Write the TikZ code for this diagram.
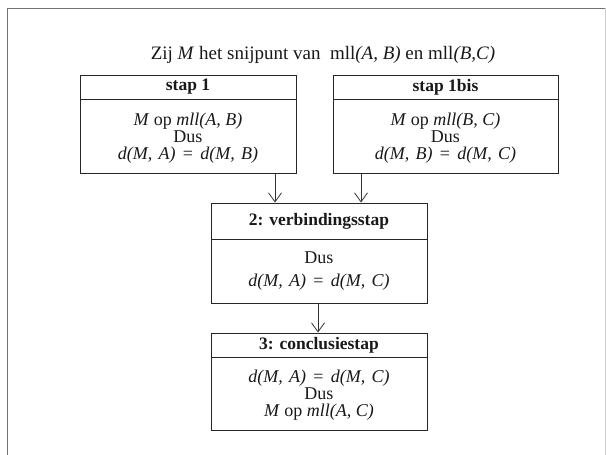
\documentclass[tikz,border=0pt]{standalone}
\usepackage{fontspec}
\setmainfont{Liberation Serif}
\usetikzlibrary{arrows.meta}
\newcommand{\eqline}[3]{\textit{#1(M,\hspace{.35em}#2)}\hspace{.4em}=\hspace{.4em}\textit{#1(M,\hspace{.35em}#3)}}
\begin{document}
\begin{tikzpicture}[x=1pt,y=-1pt,
  boxframe/.style={draw=black!85, line width=1pt, inner sep=0pt},
  sepline/.style={draw=black!85, line width=0.9pt},
  headtxt/.style={font=\fontsize{17.5}{17}\selectfont\bfseries, inner sep=0pt, text=black!90},
  bodytxt/.style={font=\fontsize{18}{17}\selectfont, align=center, inner sep=0pt, text=black!90},
  titletxt/.style={font=\fontsize{19}{19}\selectfont, inner sep=0pt, text=black!90},
  arr/.style={draw=black!80, line width=0.8pt, -{Straight Barb[length=9pt,width=13pt]}},
  frameline/.style={draw=black!55, line width=1pt}]
\useasboundingbox (0,0) rectangle (606,455);
\fill[white] (0,0) rectangle (606,455);
\draw[frameline] (7,455) -- (7,8) -- (606,8);
\draw[draw=black!20, line width=0.8pt] (605,8) -- (605,455);

\node[titletxt] (title) at (323,55) {Zij \textit{M} het snijpunt van\ \ mll\textit{(A, B)} en mll\textit{(B,C)}};

% boxes
\node[boxframe, minimum width=216pt, minimum height=98pt] (b1) at (188,124) {};
\node[boxframe, minimum width=225pt, minimum height=98pt] (b1b) at (445.5,124) {};
\node[boxframe, minimum width=216pt, minimum height=100pt] (b2) at (319,253) {};
\node[boxframe, minimum width=216pt, minimum height=97pt] (b3) at (319,381.5) {};

% header separators
\draw[sepline] ([yshift=-24.5pt]b1.north west) -- ([yshift=-24.5pt]b1.north east);
\draw[sepline] ([yshift=-24.5pt]b1b.north west) -- ([yshift=-24.5pt]b1b.north east);
\draw[sepline] ([yshift=-37pt]b2.north west) -- ([yshift=-37pt]b2.north east);
\draw[sepline] ([yshift=-25pt]b3.north west) -- ([yshift=-25pt]b3.north east);

% headers
\node[headtxt] (h1) at (188,87) {stap 1};
\node[headtxt] (h1b) at (445.5,87) {stap 1bis};
\node[headtxt] (h2) at (319,221) {2: verbindingsstap};
\node[headtxt] (h3) at (319,345.5) {3: conclusiestap};

% bodies
\node[bodytxt] (t1) at (188,138) {\textit{M} op \textit{mll(A, B)}\\Dus\\\eqline{d}{A}{B}};
\node[bodytxt] (t1b) at (445.5,138) {\textit{M} op \textit{mll(B, C)}\\Dus\\\eqline{d}{B}{C}};
\node[bodytxt] (t2a) at (319,258) {Dus};
\node[bodytxt] (t2b) at (319,282) {\eqline{d}{A}{C}};
\node[bodytxt] (t3) at (319,395) {\eqline{d}{A}{C}\\Dus\\\textit{M} op \textit{mll(A, C)}};

% connectors
\draw[arr] ([xshift=87pt]b1.south) -- ([xshift=87pt]b1.south |- b2.north);
\draw[arr] ([xshift=-84.5pt]b1b.south) -- ([xshift=-84.5pt]b1b.south |- b2.north);
\draw[arr] ([xshift=-1pt]b2.south) -- ([xshift=-1pt]b3.north);
\end{tikzpicture}
\end{document}
